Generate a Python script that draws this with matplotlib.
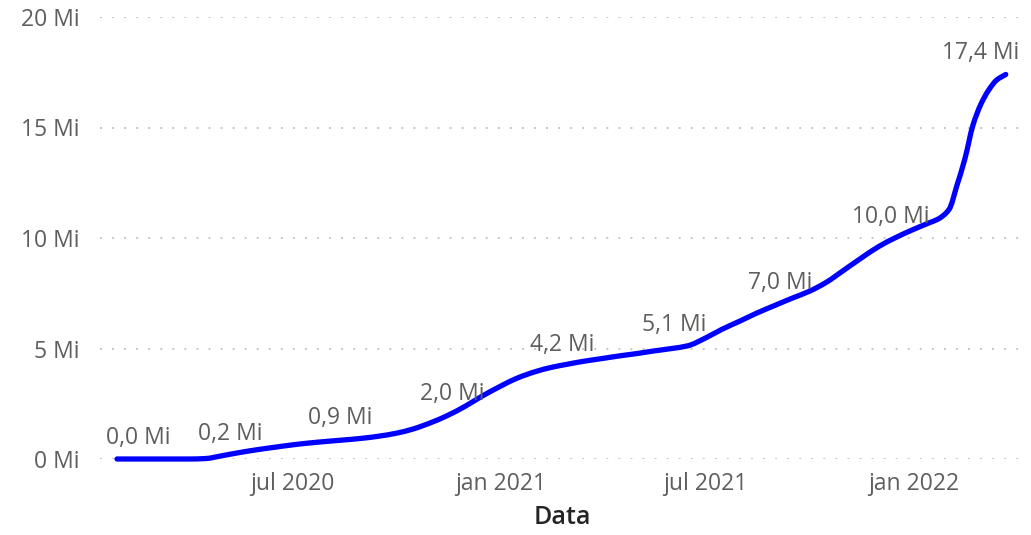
import matplotlib
matplotlib.use("Agg")
import matplotlib.pyplot as plt
import matplotlib.dates as mdates
from matplotlib.path import Path
from matplotlib.patches import PathPatch
import numpy as np

# ---- data ----
dates = ['2020-01-28', '2020-02-15', '2020-03-01', '2020-03-15', '2020-04-01', '2020-04-15',
         '2020-05-01', '2020-05-15', '2020-06-01', '2020-06-15', '2020-07-01', '2020-07-15',
         '2020-08-01', '2020-08-15', '2020-09-01', '2020-09-15', '2020-10-01', '2020-10-15',
         '2020-11-01', '2020-11-15', '2020-12-01', '2020-12-15', '2021-01-01', '2021-01-15',
         '2021-02-01', '2021-02-15', '2021-03-01', '2021-03-15', '2021-04-01', '2021-04-15',
         '2021-05-01', '2021-05-15', '2021-06-01', '2021-06-15', '2021-07-01', '2021-07-15',
         '2021-08-01', '2021-08-15', '2021-09-01', '2021-09-15', '2021-10-01', '2021-10-15',
         '2021-11-01', '2021-11-15', '2021-12-01', '2021-12-15', '2022-01-01', '2022-01-15',
         '2022-01-22', '2022-02-01', '2022-02-08', '2022-02-15', '2022-02-22', '2022-03-01',
         '2022-03-08', '2022-03-15', '2022-03-23']
values = [0.00, 0.00, 0.00, 0.00, 0.00, 0.02,
          0.16, 0.29, 0.43, 0.53, 0.64, 0.72,
          0.80, 0.86, 0.94, 1.03, 1.17, 1.35,
          1.66, 1.97, 2.40, 2.83, 3.30, 3.65,
          3.96, 4.15, 4.29, 4.42, 4.55, 4.66,
          4.77, 4.88, 5.00, 5.12, 5.48, 5.86,
          6.26, 6.60, 6.97, 7.27, 7.60, 7.98,
          8.58, 9.08, 9.62, 10.00, 10.40, 10.70,
          10.85, 11.30, 12.40, 13.60, 15.10, 16.05,
          16.70, 17.15, 17.40]

label_dates = ['2020-01-28', '2020-05-07', '2020-08-12', '2020-11-19', '2021-02-24',
               '2021-06-03', '2021-09-05', '2021-12-11', '2022-03-23']
label_values = [0.0, 0.2, 0.9, 2.0, 4.2, 5.1, 7.0, 10.0, 17.4]

xtick_dates = ['2020-07-01', '2021-01-01', '2021-07-01', '2022-01-01']
xtick_labels = ['jul 2020', 'jan 2021', 'jul 2021', 'jan 2022']
ytick_values = [0, 5, 10, 15, 20]
ytick_labels = ['0 Mi', '5 Mi', '10 Mi', '15 Mi', '20 Mi']
x_title = 'Data'

# ---- styling ----
FONT = 'Open Sans'
GRAY = '#605E5C'
plt.rcParams['font.family'] = [FONT, 'DejaVu Sans']

W, H = 1031, 535
fig = plt.figure(figsize=(W / 100, H / 100), dpi=100)
ax = fig.add_axes([100 / W, (H - 459) / H, 925 / W, 442 / H])

x = mdates.date2num(np.array(dates, dtype='datetime64[D]'))
y = np.array(values, dtype=float)


def smooth_path(xs, ys):
    """Monotone cubic Hermite (Fritsch-Carlson) rendered as Bezier segments."""
    h = np.diff(xs)
    d = np.diff(ys) / h
    m = np.zeros_like(ys)
    m[0], m[-1] = d[0], d[-1]
    for i in range(1, len(xs) - 1):
        if d[i - 1] * d[i] > 0:
            w1 = 2 * h[i] + h[i - 1]
            w2 = h[i] + 2 * h[i - 1]
            m[i] = (w1 + w2) / (w1 / d[i - 1] + w2 / d[i])
    verts = [(xs[0], ys[0])]
    codes = [Path.MOVETO]
    for i in range(len(xs) - 1):
        verts += [(xs[i] + h[i] / 3, ys[i] + m[i] * h[i] / 3),
                  (xs[i + 1] - h[i] / 3, ys[i + 1] - m[i + 1] * h[i] / 3),
                  (xs[i + 1], ys[i + 1])]
        codes += [Path.CURVE4] * 3
    return Path(verts, codes)


patch = PathPatch(smooth_path(x, y), fill=False, edgecolor='#0000FF', linewidth=3.8,
                  capstyle='round', joinstyle='round', clip_on=False, zorder=3)
ax.add_patch(patch)

ax.set_xlim(mdates.date2num(np.datetime64('2020-01-13')), mdates.date2num(np.datetime64('2022-04-09')))
ax.set_ylim(0, 20)

ax.set_xticks(mdates.date2num(np.array(xtick_dates, dtype='datetime64[D]')))
ax.set_xticklabels(xtick_labels)
ax.set_yticks(ytick_values)
ax.set_yticklabels(ytick_labels)
ax.tick_params(axis='both', length=0, labelsize=16.5, labelcolor=GRAY)
ax.tick_params(axis='x', pad=9)
ax.tick_params(axis='y', pad=15)

for s in ax.spines.values():
    s.set_visible(False)

ax.yaxis.grid(True, linestyle=(0, (1, 5.2)), linewidth=1.4, color='#C8C6C4')
ax.xaxis.grid(False)
ax.set_axisbelow(True)

ax.set_xlabel(x_title, fontsize=18, color='#252423', fontweight='semibold')
ax.xaxis.set_label_coords(0.5, -0.105)

lx = mdates.date2num(np.array(label_dates, dtype='datetime64[D]'))
n = len(label_values)
for i, (xx, v) in enumerate(zip(lx, label_values)):
    txt = f"{v:.1f}".replace('.', ',') + ' Mi'
    if i == 0:
        ha, dx = 'left', -11
    elif i == n - 1:
        ha, dx = 'right', 13
    else:
        ha, dx = 'center', 0
    ax.annotate(txt, (xx, v), xytext=(dx, 15), textcoords='offset pixels',
                ha=ha, va='baseline', fontsize=16.5, color=GRAY, zorder=4,
                annotation_clip=False)

fig.savefig('out.png', dpi=100)
